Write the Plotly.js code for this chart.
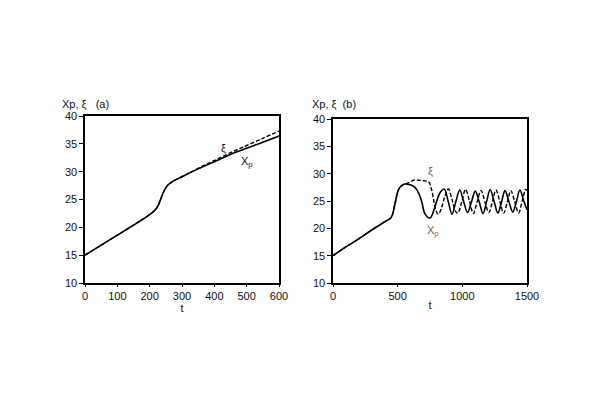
<!DOCTYPE html>
<html>
<head>
<meta charset="utf-8">
<script src="https://cdn.plot.ly/plotly-3.0.1.min.js"></script>
<style>
  html, body { margin: 0; padding: 0; background: #fff; }
  #chart { width: 600px; height: 398px; }
</style>
</head>
<body>
<div id="chart"></div>
<script>
// Panel (a): short run, t = 0..600
const tA = [0, 50, 100, 150, 200, 215, 225, 235, 245, 255, 270, 300, 350, 400, 450, 500, 550, 600];
const xpA = [15, 16.8, 18.6, 20.4, 22.3, 23.0, 23.8, 25.2, 26.6, 27.5, 28.2, 29.1, 30.5, 31.8, 33.1, 34.2, 35.3, 36.4];
const xiA = [15, 16.8, 18.6, 20.4, 22.3, 23.0, 23.8, 25.2, 26.6, 27.5, 28.2, 29.1, 30.6, 32.0, 33.4, 34.7, 36.0, 37.3];

// Panel (b): long run, t = 0..1500
const tXpB = [0, 100, 200, 300, 400, 450, 480, 505, 530, 557, 590, 634, 665, 686, 712, 750, 780, 802, 830, 860,
  890, 920, 950, 980, 1010, 1040, 1070, 1100, 1130, 1160, 1188, 1215, 1245, 1275, 1303, 1330, 1360, 1390, 1418, 1445, 1475, 1500];
const xpB = [15, 16.6, 18.1, 19.7, 21.2, 22.0, 24.6, 27.0, 27.8, 28.1, 28.0, 27.5, 26.3, 24.9, 22.6, 21.9, 23.3, 25.0, 26.6, 27.2,
  25.0, 22.6, 24.9, 27.0, 24.9, 22.9, 24.8, 26.8, 24.9, 22.7, 24.9, 27.1, 25.0, 22.8, 24.8, 26.9, 24.9, 23.0, 24.9, 27.0, 25.0, 23.4];

const tXiB = [0, 100, 200, 300, 400, 450, 480, 505, 530, 557, 590, 621, 660, 700, 740, 760, 776, 795, 815, 840, 865, 892,
  920, 945, 965, 995, 1025, 1055, 1085, 1115, 1145, 1175, 1205, 1233, 1260, 1290, 1320, 1348, 1375, 1405, 1435, 1462, 1490, 1500];
const xiB = [15, 16.6, 18.1, 19.7, 21.2, 22.0, 24.6, 27.0, 27.8, 28.1, 28.4, 28.8, 28.8, 28.7, 28.5, 27.3, 25.5, 23.3, 22.6, 23.8, 25.9, 27.2,
  25.3, 23.2, 22.8, 24.8, 27.1, 25.0, 22.7, 24.9, 26.9, 24.8, 22.9, 24.9, 27.0, 24.9, 22.8, 24.8, 26.9, 24.9, 22.8, 24.9, 27.1, 26.9];

const yTicks = [10, 15, 20, 25, 30, 35, 40];
const xTicksA = [0, 100, 200, 300, 400, 500, 600];
const xTicksB = [0, 500, 1000, 1500];

const font = { family: 'Liberation Sans, Arial, sans-serif', size: 11, color: '#111' };
const grey = { family: font.family, size: 11, color: '#666' };

const solid = { color: '#000', width: 1.6, shape: 'spline' };
const dashed = { color: '#000', width: 1.4, dash: '4px,2px', shape: 'spline' };

const data = [
  { x: tA, y: xpA, xaxis: 'x', yaxis: 'y', mode: 'lines', line: solid },
  { x: tA, y: xiA, xaxis: 'x', yaxis: 'y', mode: 'lines', line: dashed },
  { x: tXpB, y: xpB, xaxis: 'x2', yaxis: 'y2', mode: 'lines', line: solid },
  { x: tXiB, y: xiB, xaxis: 'x2', yaxis: 'y2', mode: 'lines', line: dashed }
];

function xAxis(domain, range, ticks, anchor) {
  return {
    domain: domain, range: range, anchor: anchor,
    tickvals: ticks, ticks: 'outside', ticklen: 2, tickcolor: '#000',
    showline: true, linecolor: '#000', linewidth: 1.6, mirror: true,
    showgrid: false, zeroline: false, tickfont: font,
    title: { text: 't', font: font, standoff: 0 }
  };
}

function yAxis(domain, anchor) {
  return {
    domain: domain, range: [10, 40], anchor: anchor,
    tickvals: yTicks, ticks: 'outside', ticklen: 4, tickcolor: '#000',
    showline: true, linecolor: '#000', linewidth: 1.6, mirror: true,
    showgrid: false, zeroline: false, tickfont: font
  };
}

function label(xref, yref, x, y, text, f) {
  return { xref: xref, yref: yref, x: x, y: y, text: text, showarrow: false,
    xanchor: 'center', yanchor: 'middle', font: f };
}

const layout = {
  width: 600, height: 398,
  margin: { l: 0, r: 0, t: 0, b: 0 },
  paper_bgcolor: '#fff', plot_bgcolor: '#fff',
  showlegend: false,
  font: font,
  xaxis: xAxis([85 / 600, 279 / 600], [0, 600], xTicksA, 'y'),
  yaxis: yAxis([1 - 283 / 398, 1 - 116 / 398], 'x'),
  xaxis2: xAxis([333 / 600, 527 / 600], [0, 1500], xTicksB, 'y2'),
  yaxis2: yAxis([1 - 283 / 398, 1 - 119 / 398], 'x2'),
  annotations: [
    label('paper', 'paper', 85 / 600, 1 - 104 / 398, 'Xp, ξ &nbsp;&nbsp;(a)', font),
    label('paper', 'paper', 334 / 600, 1 - 104 / 398, 'Xp, ξ &nbsp;(b)', font),
    label('x', 'y', 428, 34.3, 'ξ', font),
    label('x', 'y', 502, 31.7, 'X<sub>p</sub>', font),
    label('x2', 'y2', 752, 30.4, 'ξ', grey),
    label('x2', 'y2', 770, 19.6, 'X<sub>p</sub>', grey)
  ]
};

Plotly.newPlot('chart', data, layout, { staticPlot: true, displayModeBar: false });
</script>
</body>
</html>
